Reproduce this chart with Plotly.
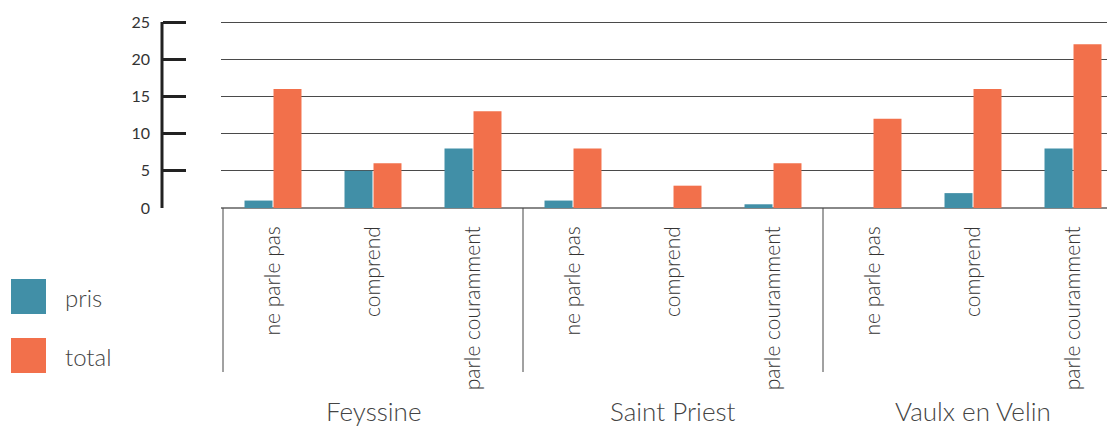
import plotly.graph_objects as go

# ---- data ----
sites = ["Feyssine", "Saint Priest", "Vaulx en Velin"]
levels = ["ne parle pas", "comprend", "parle couramment"]
pris = [1, 5, 8, 1, 0, 0.5, 0, 2, 8]
total = [16, 6, 13, 8, 3, 6, 12, 16, 22]
y_ticks = [0, 5, 10, 15, 20, 25]

C_PRIS = "#418FA7"
C_TOTAL = "#F2704B"
FONT = "Lato"
WT = 300

W, H = 1107, 428
TOP, BOTTOM = 20, 208          # plot area pixel rows
PH = BOTTOM - TOP


def py(pix):
    """pixel row -> paper y"""
    return (BOTTOM - pix) / PH


x_idx = list(range(len(sites) * len(levels)))
tick_text = [lv for _ in sites for lv in levels]

fig = go.Figure()
fig.add_trace(go.Bar(x=x_idx, y=pris, name="pris", marker_color=C_PRIS, marker_line_width=0))
fig.add_trace(go.Bar(x=x_idx, y=total, name="total", marker_color=C_TOTAL, marker_line_width=0))

plot_left = 221 / W
fig.update_layout(
    width=W, height=H,
    margin=dict(l=0, r=0, t=TOP, b=H - BOTTOM),
    paper_bgcolor="white", plot_bgcolor="white",
    barmode="group", bargap=0.42, bargroupgap=0.035,
    showlegend=False,
    font=dict(family=FONT, color="#333", weight=WT),
    xaxis=dict(
        domain=[plot_left, 1],
        range=[-0.52, 8.34],
        tickmode="array", tickvals=x_idx, ticktext=tick_text,
        tickangle=-90, tickfont=dict(size=21, color="#333", family=FONT, weight=WT),
        ticks="", ticklabelstandoff=13,
        showgrid=False, showline=False, zeroline=False,
        automargin=False,
    ),
    yaxis=dict(
        range=[0, 25 * PH / 186], tickvals=y_ticks,
        anchor="free", position=162 / W,
        showline=False,
        ticks="inside", ticklen=23, tickwidth=3, tickcolor="#222",
        tickfont=dict(size=16, color="#333", family=FONT, weight=400),
        ticklabelstandoff=12,
        showgrid=True, gridcolor="#4a4a4a", gridwidth=1.3,
        zeroline=True, zerolinecolor="#888", zerolinewidth=2,
        automargin=False,
    ),
)

# vertical y-axis line spanning 0..25 only
fig.add_shape(type="line", xref="paper", yref="y",
              x0=162 / W, x1=162 / W, y0=y_ticks[0], y1=y_ticks[-1],
              line=dict(color="#222", width=3))

# group dividers and group labels
n = len(levels)
for i, s in enumerate(sites):
    fig.add_shape(type="line", xref="x", yref="paper",
                  x0=i * n - 0.5, x1=i * n - 0.5, y0=0, y1=py(372),
                  line=dict(color="#444", width=1))
    fig.add_annotation(x=i * n + (n - 1) / 2, xref="x", y=py(411), yref="paper",
                       text=s, showarrow=False, font=dict(size=26, color="#444", family=FONT, weight=WT),
                       xanchor="center", yanchor="middle")

# legend drawn as large squares
legend_items = [("pris", C_PRIS, 279), ("total", C_TOTAL, 338)]
for name, col, top in legend_items:
    fig.add_shape(type="rect", xref="paper", yref="paper",
                  x0=11 / W, x1=46 / W,
                  y0=py(top + 35), y1=py(top),
                  fillcolor=col, line_width=0)
    fig.add_annotation(x=63 / W, xref="paper", y=py(top + 18), yref="paper",
                       text=name, showarrow=False, xanchor="left", yanchor="middle",
                       font=dict(size=24, color="#444", family=FONT, weight=WT))

fig.write_html("out.html", config={"displayModeBar": False},
               post_script="document.body.style.margin='0';document.body.style.overflow='hidden';")
